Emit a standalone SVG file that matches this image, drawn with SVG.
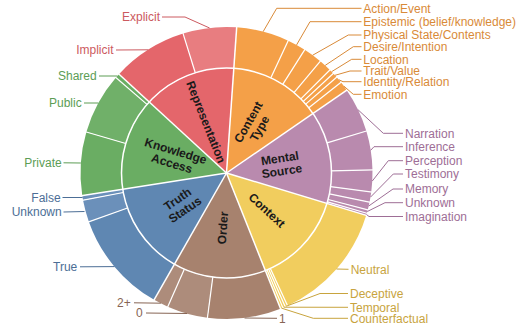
<svg xmlns="http://www.w3.org/2000/svg" width="516" height="324" viewBox="0 0 516 324">
<style>
.in{fill:none;stroke-width:105}
.out{fill:none;stroke-width:41}
.sep line{stroke:#fff;stroke-width:1.5}
.sep .o{stroke-width:1.2}
.cat{font-family:"Liberation Sans",Arial,sans-serif;font-size:12px;font-weight:bold;fill:#1a1a1a;text-anchor:middle}
.lbl{font-family:"Liberation Sans",Arial,sans-serif;font-size:12px}
.l{text-anchor:end}
.ld polyline{fill:none;stroke-width:1}
.red{fill:#cc5a60}.orange{fill:#d98a38}.purple{fill:#9e6e96}.yellow{fill:#c8a43e}.brown{fill:#876554}.blue{fill:#4c6e96}.green{fill:#5c9d55}
</style>
<rect width="516" height="324" fill="#fff"/>

<!-- inner ring -->
<g id="representation"><circle class="in" cx="226.5" cy="173" r="52.5" stroke="#e4666b" stroke-dasharray="47.2 400" transform="rotate(222.57 226.5 173)"/></g>
<g id="content-type"><circle class="in" cx="226.5" cy="173" r="52.5" stroke="#f4a048" stroke-dasharray="47.2 400" transform="rotate(-86 226.5 173)"/></g>
<g id="mental-source"><circle class="in" cx="226.5" cy="173" r="52.5" stroke="#b98aae" stroke-dasharray="47.2 400" transform="rotate(-34.57 226.5 173)"/></g>
<g id="context"><circle class="in" cx="226.5" cy="173" r="52.5" stroke="#f1cd5e" stroke-dasharray="47.2 400" transform="rotate(16.86 226.5 173)"/></g>
<g id="order"><circle class="in" cx="226.5" cy="173" r="52.5" stroke="#a7826e" stroke-dasharray="47.2 400" transform="rotate(68.29 226.5 173)"/></g>
<g id="truth-status"><circle class="in" cx="226.5" cy="173" r="52.5" stroke="#5f87b2" stroke-dasharray="47.2 400" transform="rotate(119.71 226.5 173)"/></g>
<g id="knowledge-access"><circle class="in" cx="226.5" cy="173" r="52.5" stroke="#6aad63" stroke-dasharray="47.2 400" transform="rotate(171.14 226.5 173)"/></g>

<!-- outer ring -->
<g id="implicit"><circle class="out" cx="226.5" cy="173" r="125.5" stroke="#e4666b" stroke-dasharray="66.0 800" transform="rotate(222.57 226.5 173)"/></g>
<g id="explicit"><circle class="out" cx="226.5" cy="173" r="125.5" stroke="#e87d80" stroke-dasharray="46.7 800" transform="rotate(252.7 226.5 173)"/></g>
<g id="action-event"><circle class="out" cx="226.5" cy="173" r="125.5" stroke="#f4a048" stroke-dasharray="46.0 800" transform="rotate(-86 226.5 173)"/></g>
<g id="epistemic"><circle class="out" cx="226.5" cy="173" r="125.5" stroke="#f4a048" stroke-dasharray="16.2 800" transform="rotate(-65 226.5 173)"/></g>
<g id="physical-state"><circle class="out" cx="226.5" cy="173" r="125.5" stroke="#f4a048" stroke-dasharray="16.65 800" transform="rotate(-57.6 226.5 173)"/></g>
<g id="desire-intention"><circle class="out" cx="226.5" cy="173" r="125.5" stroke="#f4a048" stroke-dasharray="11.17 800" transform="rotate(-50 226.5 173)"/></g>
<g id="location"><circle class="out" cx="226.5" cy="173" r="125.5" stroke="#f4a048" stroke-dasharray="4.16 800" transform="rotate(-44.9 226.5 173)"/></g>
<g id="trait-value"><circle class="out" cx="226.5" cy="173" r="125.5" stroke="#f4a048" stroke-dasharray="4.38 800" transform="rotate(-43 226.5 173)"/></g>
<g id="identity-relation"><circle class="out" cx="226.5" cy="173" r="125.5" stroke="#f4a048" stroke-dasharray="5.7 800" transform="rotate(-41 226.5 173)"/></g>
<g id="emotion"><circle class="out" cx="226.5" cy="173" r="125.5" stroke="#f4a048" stroke-dasharray="8.4 800" transform="rotate(-38.4 226.5 173)"/></g>
<g id="narration"><circle class="out" cx="226.5" cy="173" r="125.5" stroke="#b98aae" stroke-dasharray="39.14 800" transform="rotate(-34.57 226.5 173)"/></g>
<g id="inference"><circle class="out" cx="226.5" cy="173" r="125.5" stroke="#b98aae" stroke-dasharray="33.95 800" transform="rotate(-16.7 226.5 173)"/></g>
<g id="perception"><circle class="out" cx="226.5" cy="173" r="125.5" stroke="#b98aae" stroke-dasharray="19.06 800" transform="rotate(-1.2 226.5 173)"/></g>
<g id="testimony"><circle class="out" cx="226.5" cy="173" r="125.5" stroke="#b98aae" stroke-dasharray="8.76 800" transform="rotate(7.5 226.5 173)"/></g>
<g id="memory"><circle class="out" cx="226.5" cy="173" r="125.5" stroke="#b98aae" stroke-dasharray="6.79 800" transform="rotate(11.5 226.5 173)"/></g>
<g id="unknown-source"><circle class="out" cx="226.5" cy="173" r="125.5" stroke="#b98aae" stroke-dasharray="3.07 800" transform="rotate(14.6 226.5 173)"/></g>
<g id="imagination"><circle class="out" cx="226.5" cy="173" r="125.5" stroke="#b98aae" stroke-dasharray="1.9 800" transform="rotate(16 226.5 173)"/></g>
<g id="neutral"><circle class="out" cx="226.5" cy="173" r="125.5" stroke="#f1cd5e" stroke-dasharray="106.1 800" transform="rotate(16.86 226.5 173)"/></g>
<g id="deceptive"><circle class="out" cx="226.5" cy="173" r="125.5" stroke="#f1cd5e" stroke-dasharray="2.19 800" transform="rotate(65.3 226.5 173)"/></g>
<g id="temporal"><circle class="out" cx="226.5" cy="173" r="125.5" stroke="#f1cd5e" stroke-dasharray="2.19 800" transform="rotate(66.3 226.5 173)"/></g>
<g id="counterfactual"><circle class="out" cx="226.5" cy="173" r="125.5" stroke="#f1cd5e" stroke-dasharray="2.17 800" transform="rotate(67.3 226.5 173)"/></g>
<g id="order-1"><circle class="out" cx="226.5" cy="173" r="125.5" stroke="#a7826e" stroke-dasharray="63.98 800" transform="rotate(68.29 226.5 173)"/></g>
<g id="order-0"><circle class="out" cx="226.5" cy="173" r="125.5" stroke="#ad8c7b" stroke-dasharray="35.48 800" transform="rotate(97.5 226.5 173)"/></g>
<g id="order-2plus"><circle class="out" cx="226.5" cy="173" r="125.5" stroke="#ad8c7b" stroke-dasharray="13.16 800" transform="rotate(113.7 226.5 173)"/></g>
<g id="true"><circle class="out" cx="226.5" cy="173" r="125.5" stroke="#5f87b2" stroke-dasharray="89.35 800" transform="rotate(119.71 226.5 173)"/></g>
<g id="unknown-truth"><circle class="out" cx="226.5" cy="173" r="125.5" stroke="#6b90ba" stroke-dasharray="19.28 800" transform="rotate(160.5 226.5 173)"/></g>
<g id="false"><circle class="out" cx="226.5" cy="173" r="125.5" stroke="#6b90ba" stroke-dasharray="4.03 800" transform="rotate(169.3 226.5 173)"/></g>
<g id="private"><circle class="out" cx="226.5" cy="173" r="125.5" stroke="#6aad63" stroke-dasharray="55.11 800" transform="rotate(171.14 226.5 173)"/></g>
<g id="public"><circle class="out" cx="226.5" cy="173" r="125.5" stroke="#70b069" stroke-dasharray="53.67 800" transform="rotate(196.3 226.5 173)"/></g>
<g id="shared"><circle class="out" cx="226.5" cy="173" r="125.5" stroke="#6aad63" stroke-dasharray="3.88 800" transform="rotate(220.8 226.5 173)"/></g>

<!-- white separators -->
<g class="sep">
<circle cx="226.5" cy="173" r="105" fill="none" stroke="#fff" stroke-width="1.5"/>
<line x1="226.5" y1="173" x2="226.5" y2="26" transform="rotate(4 226.5 173)"/>
<line x1="226.5" y1="173" x2="226.5" y2="26" transform="rotate(55.43 226.5 173)"/>
<line x1="226.5" y1="173" x2="226.5" y2="26" transform="rotate(106.86 226.5 173)"/>
<line x1="226.5" y1="173" x2="226.5" y2="26" transform="rotate(158.29 226.5 173)"/>
<line x1="226.5" y1="173" x2="226.5" y2="26" transform="rotate(209.71 226.5 173)"/>
<line x1="226.5" y1="173" x2="226.5" y2="26" transform="rotate(261.14 226.5 173)"/>
<line x1="226.5" y1="173" x2="226.5" y2="26" transform="rotate(312.57 226.5 173)"/>
<line class="o" x1="226.5" y1="68" x2="226.5" y2="26" transform="rotate(342.7 226.5 173)"/>
<line class="o" x1="226.5" y1="68" x2="226.5" y2="26" transform="rotate(25 226.5 173)"/>
<line class="o" x1="226.5" y1="68" x2="226.5" y2="26" transform="rotate(32.4 226.5 173)"/>
<line class="o" x1="226.5" y1="68" x2="226.5" y2="26" transform="rotate(40 226.5 173)"/>
<line class="o" x1="226.5" y1="68" x2="226.5" y2="26" transform="rotate(45.1 226.5 173)"/>
<line class="o" x1="226.5" y1="68" x2="226.5" y2="26" transform="rotate(47 226.5 173)"/>
<line class="o" x1="226.5" y1="68" x2="226.5" y2="26" transform="rotate(49 226.5 173)"/>
<line class="o" x1="226.5" y1="68" x2="226.5" y2="26" transform="rotate(51.6 226.5 173)"/>
<line class="o" x1="226.5" y1="68" x2="226.5" y2="26" transform="rotate(73.3 226.5 173)"/>
<line class="o" x1="226.5" y1="68" x2="226.5" y2="26" transform="rotate(88.8 226.5 173)"/>
<line class="o" x1="226.5" y1="68" x2="226.5" y2="26" transform="rotate(97.5 226.5 173)"/>
<line class="o" x1="226.5" y1="68" x2="226.5" y2="26" transform="rotate(101.5 226.5 173)"/>
<line class="o" x1="226.5" y1="68" x2="226.5" y2="26" transform="rotate(104.6 226.5 173)"/>
<line class="o" x1="226.5" y1="68" x2="226.5" y2="26" transform="rotate(106 226.5 173)"/>
<line class="o" x1="226.5" y1="68" x2="226.5" y2="26" transform="rotate(155.3 226.5 173)"/>
<line class="o" x1="226.5" y1="68" x2="226.5" y2="26" transform="rotate(156.3 226.5 173)"/>
<line class="o" x1="226.5" y1="68" x2="226.5" y2="26" transform="rotate(157.3 226.5 173)"/>
<line class="o" x1="226.5" y1="68" x2="226.5" y2="26" transform="rotate(187.5 226.5 173)"/>
<line class="o" x1="226.5" y1="68" x2="226.5" y2="26" transform="rotate(203.7 226.5 173)"/>
<line class="o" x1="226.5" y1="68" x2="226.5" y2="26" transform="rotate(250.5 226.5 173)"/>
<line class="o" x1="226.5" y1="68" x2="226.5" y2="26" transform="rotate(259.3 226.5 173)"/>
<line class="o" x1="226.5" y1="68" x2="226.5" y2="26" transform="rotate(286.3 226.5 173)"/>
<line class="o" x1="226.5" y1="68" x2="226.5" y2="26" transform="rotate(310.8 226.5 173)"/>
</g>

<!-- inner labels -->
<g id="inner-labels">
<text class="cat" transform="translate(226.5 173) rotate(248.29) translate(55 0) rotate(180)" y="4.3">Representation</text>
<text class="cat" transform="translate(226.5 173) rotate(-60.29) translate(55 0)"><tspan x="0" y="-2.2">Content</tspan><tspan x="0" y="10.8">Type</tspan></text>
<text class="cat" transform="translate(226.5 173) rotate(-8.86) translate(55 0)"><tspan x="0" y="-2.2">Mental</tspan><tspan x="0" y="10.8">Source</tspan></text>
<text class="cat" transform="translate(226.5 173) rotate(42.57) translate(55 0)" y="4.3">Context</text>
<text class="cat" transform="translate(226.5 173) rotate(94) translate(55 0) rotate(180)" y="4.3">Order</text>
<text class="cat" transform="translate(226.5 173) rotate(145.43) translate(55 0) rotate(180)"><tspan x="0" y="-2.2">Truth</tspan><tspan x="0" y="10.8">Status</tspan></text>
<text class="cat" transform="translate(226.5 173) rotate(196.86) translate(55 0) rotate(180)"><tspan x="0" y="-2.2">Knowledge</tspan><tspan x="0" y="10.8">Access</tspan></text>
</g>

<!-- leader lines -->
<g id="connectors" class="ld">
<polyline stroke="#cc5a60" points="209.6,28 185,17 162,17"/>
<polyline stroke="#cc5a60" points="148.4,49.8 116,50"/>
<polyline stroke="#5c9d55" points="117.5,76 99,76"/>
<polyline stroke="#5c9d55" points="98.2,103 84,103"/>
<polyline stroke="#5c9d55" points="80.8,163 63.5,162.8"/>
<polyline stroke="#4c6e96" points="82.6,197.5 62.5,197.5"/>
<polyline stroke="#4c6e96" points="84.5,211.5 63.5,212"/>
<polyline stroke="#4c6e96" points="114.5,266.6 80,266.8"/>
<polyline stroke="#876554" points="160.9,303.2 134,302.8"/>
<polyline stroke="#876554" points="187.2,313.5 146,313"/>
<polyline stroke="#876554" points="244.5,318 277,318.3"/>
<polyline stroke="#c8a43e" points="281.7,308.2 313.3,318.3 348,318.3"/>
<polyline stroke="#c8a43e" points="284,307.2 348,307.3"/>
<polyline stroke="#c8a43e" points="286.3,306.2 320,293.5 348,293.5"/>
<polyline stroke="#c8a43e" points="336.5,269 348.5,269.3"/>
<polyline stroke="#9e6e96" points="366.5,214.5 369,216.5 403,216.5"/>
<polyline stroke="#9e6e96" points="367.3,211.5 385,202.7 403,202.7"/>
<polyline stroke="#9e6e96" points="368.7,206 393,189 403,189"/>
<polyline stroke="#9e6e96" points="370.5,197.1 393.3,174 403,174"/>
<polyline stroke="#9e6e96" points="372.3,181 388.3,160.7 403,160.7"/>
<polyline stroke="#9e6e96" points="370.7,150.3 374,146.7 403,146.7"/>
<polyline stroke="#9e6e96" points="358.1,109.8 383.3,133.3 403,133.3"/>
<polyline stroke="#d98a38" points="343.9,86.2 353.3,94.3 361.5,94.3"/>
<polyline stroke="#d98a38" points="338.8,79.7 343,81.7 361.5,81.7"/>
<polyline stroke="#d98a38" points="335,75.3 350,71 361.5,71"/>
<polyline stroke="#d98a38" points="331.6,71.7 351.7,59.3 361.5,59.3"/>
<polyline stroke="#d98a38" points="325.2,65.4 353.3,46.7 361.5,46.7"/>
<polyline stroke="#d98a38" points="312.7,55.2 348.3,35 361.5,35"/>
<polyline stroke="#d98a38" points="296.6,44.9 310,21.7 361.5,21.7"/>
<polyline stroke="#d98a38" points="263.1,31.7 276.7,8.3 361.5,8.3"/>
</g>

<!-- outer labels -->
<g id="outer-labels" class="lbl">
<text class="l red" x="160" y="21.2">Explicit</text>
<text class="l red" x="113.5" y="54.2">Implicit</text>
<text class="l green" x="96.7" y="80.2">Shared</text>
<text class="l green" x="81.7" y="107.2">Public</text>
<text class="l green" x="61.7" y="167">Private</text>
<text class="l blue" x="60.7" y="201.5">False</text>
<text class="l blue" x="61.7" y="216.3">Unknown</text>
<text class="l blue" x="77.3" y="271">True</text>
<text class="l brown" x="130.7" y="307">2+</text>
<text class="l brown" x="142.7" y="317">0</text>
<text class="brown" x="279" y="322.5">1</text>
<text class="yellow" x="350" y="322.5">Counterfactual</text>
<text class="yellow" x="350" y="311.5">Temporal</text>
<text class="yellow" x="350" y="297.6">Deceptive</text>
<text class="yellow" x="350.7" y="273.5">Neutral</text>
<text class="purple" x="405" y="220.5">Imagination</text>
<text class="purple" x="405" y="206.9">Unknown</text>
<text class="purple" x="405" y="193.2">Memory</text>
<text class="purple" x="405" y="178.2">Testimony</text>
<text class="purple" x="405" y="164.9">Perception</text>
<text class="purple" x="405" y="150.9">Inference</text>
<text class="purple" x="405" y="137.5">Narration</text>
<text class="orange" x="363.3" y="98.5">Emotion</text>
<text class="orange" x="363.3" y="85.9">Identity/Relation</text>
<text class="orange" x="363.3" y="75.2">Trait/Value</text>
<text class="orange" x="363.3" y="63.5">Location</text>
<text class="orange" x="363.3" y="50.9">Desire/Intention</text>
<text class="orange" x="363.3" y="39.2">Physical State/Contents</text>
<text class="orange" x="363.3" y="25.9">Epistemic (belief/knowledge)</text>
<text class="orange" x="363.3" y="12.5">Action/Event</text>
</g>
</svg>
